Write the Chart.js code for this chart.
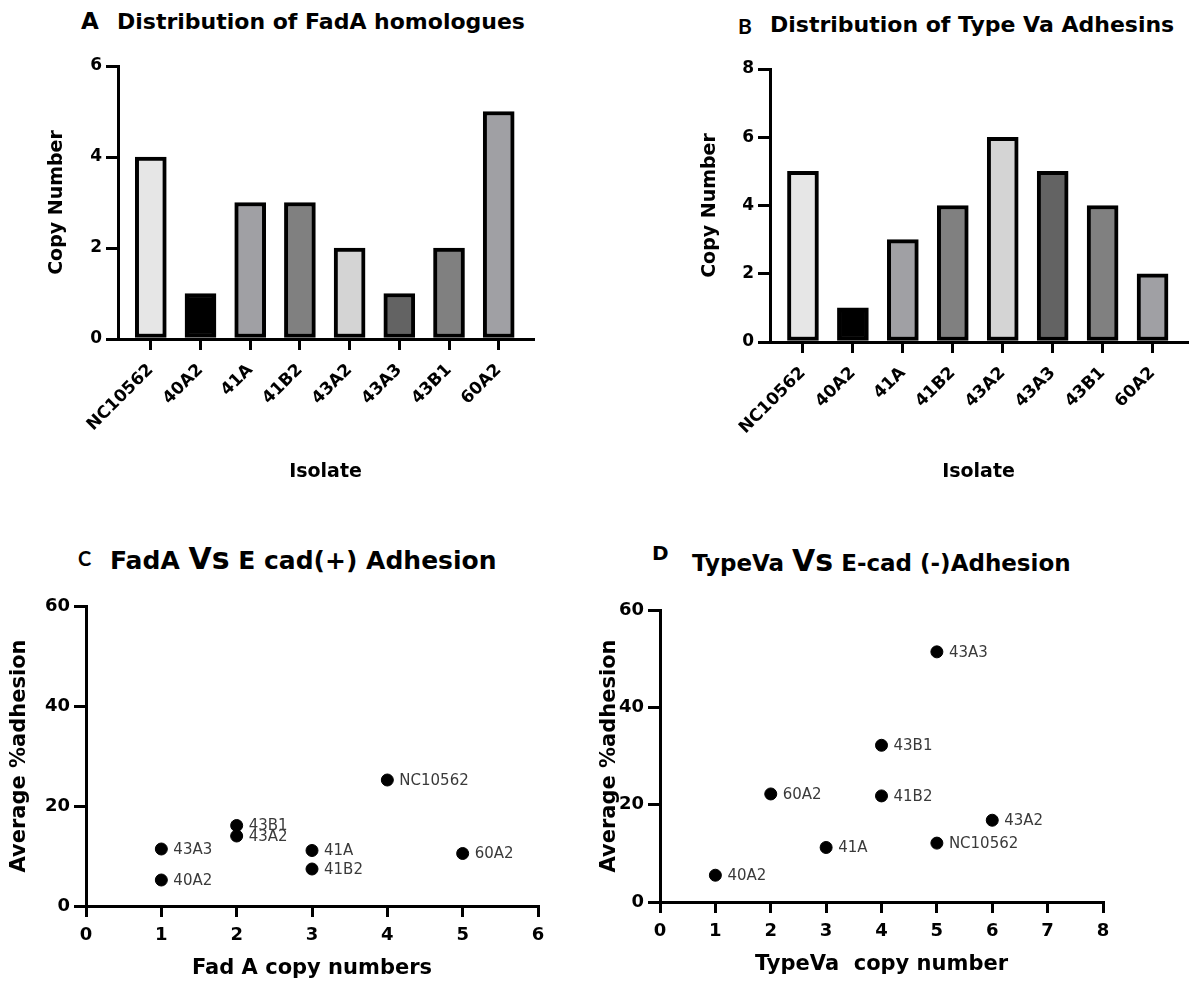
<!DOCTYPE html>
<html><head><meta charset="utf-8">
<script src="https://cdn.jsdelivr.net/npm/chart.js@4.4.1/dist/chart.umd.min.js"></script>
<style>
html,body{margin:0;padding:0;background:#fff;}
body{width:1195px;height:985px;position:relative;overflow:hidden;font-family:"DejaVu Sans",sans-serif;}
canvas{position:absolute;}
.t{position:absolute;white-space:nowrap;font-weight:bold;color:#000;line-height:1;font-family:"DejaVu Sans",sans-serif;}
</style></head><body>
<div class="t" style="left:81px;top:10px;font-size:23px">A</div>
<div class="t" style="left:117px;top:11px;font-size:22px">Distribution of FadA homologues</div>
<div class="t" style="left:738px;top:15px;font-size:21px;font-family:Lato,sans-serif">B</div>
<div class="t" style="left:770px;top:14px;font-size:22px">Distribution of Type Va Adhesins</div>
<div class="t" style="left:78px;top:548px;font-size:20px;font-family:Lato,sans-serif">C</div>
<div class="t" style="left:110px;top:544px;font-size:25px">FadA <span style="font-size:30px">Vs</span> E cad(+) Adhesion</div>
<div class="t" style="left:652px;top:543px;font-size:20px">D</div>
<div class="t" style="left:692px;top:546px;font-size:23px">TypeVa <span style="font-size:30px">Vs</span> E-cad (-)Adhesion</div>

<canvas id="cA" width="590" height="460" style="left:0px;top:40px"></canvas>
<canvas id="cB" width="600" height="460" style="left:595px;top:40px"></canvas>
<canvas id="cC" width="590" height="405" style="left:0px;top:580px"></canvas>
<canvas id="cD" width="600" height="405" style="left:595px;top:580px"></canvas>

<script>
// ---- data ----
const isolates = ['NC10562', '40A2', '41A', '41B2', '43A2', '43A3', '43B1', '60A2'];
const fadaCopies = [4, 1, 3, 3, 2, 1, 2, 5];
const typeVaCopies = [5, 1, 3, 4, 6, 5, 4, 2];
const adhesionEcadPos = [25.2, 5.2, 11.1, 7.4, 14.0, 11.4, 16.1, 10.5];
const adhesionEcadNeg = [12.1, 5.5, 11.2, 21.8, 16.8, 51.4, 32.2, 22.2];
const barColors = ['#e6e6e6', '#000000', '#a0a0a4', '#808080', '#d4d4d4', '#636363', '#808080', '#a0a0a4'];
const fadaYTicks = [0, 2, 4, 6];
const typeVaYTicks = [0, 2, 4, 6, 8];
const adhesionYTicks = [0, 20, 40, 60];
const fadaXTicks = [0, 1, 2, 3, 4, 5, 6];
const typeVaXTicks = [0, 1, 2, 3, 4, 5, 6, 7, 8];

// ---- layout helpers ----
function frame(box, area, yTitleX, xTitleY, lh) {
  const padL = yTitleX - lh / 2 - box.x;
  const padT = area.T - box.y;
  const padR = box.x + box.w - area.R;
  const xBottom = xTitleY + lh / 2 - box.y;
  const padB = box.h - xBottom;
  return {
    padding: {left: padL, top: padT, right: padR, bottom: padB},
    yW: area.L - box.x - padL,
    xH: xBottom - (area.B - box.y)
  };
}
const FONT = 'DejaVu Sans';
const axisLine = {display: true, color: '#000', width: 3};
function tickGrid(len) {
  return {display: true, drawOnChartArea: false, drawTicks: true, tickLength: len, color: '#000', lineWidth: 3, offset: false};
}

const pointNames = {
  id: 'pointNames',
  afterDatasetsDraw(chart) {
    const ctx = chart.ctx;
    const meta = chart.getDatasetMeta(0);
    ctx.save();
    ctx.font = '15px "DejaVu Sans"';
    ctx.fillStyle = '#3a3a3a';
    ctx.textBaseline = 'middle';
    ctx.textAlign = 'left';
    meta.data.forEach((pt, i) => ctx.fillText(isolates[i], pt.x + 12, pt.y + 1));
    ctx.restore();
  }
};

function barChart(id, values, yTicks, fr) {
  return new Chart(document.getElementById(id), {
    type: 'bar',
    data: {datasets: [{
      data: values.map((v, i) => ({x: i, y: v})),
      backgroundColor: barColors, borderColor: '#000', borderWidth: 4,
      borderSkipped: false, barThickness: 31
    }]},
    options: {
      responsive: false, animation: false, events: [],
      layout: {padding: fr.padding},
      plugins: {legend: {display: false}, tooltip: {enabled: false}},
      scales: {
        x: {
          type: 'linear', min: -0.66, max: 7.69, offset: false,
          afterBuildTicks: ax => { ax.ticks = isolates.map((_, i) => ({value: i})); },
          afterFit: ax => { ax.height = fr.xH; },
          grid: tickGrid(11), border: axisLine,
          ticks: {autoSkip: false, minRotation: 45, maxRotation: 45, padding: 10, color: '#000',
                  font: {family: FONT, weight: 'bold', size: 17},
                  callback: v => isolates[v]},
          title: {display: true, text: 'Isolate', color: '#000', padding: 0,
                  font: {family: FONT, weight: 'bold', size: 19}}
        },
        y: {
          min: yTicks[0], max: yTicks[yTicks.length - 1],
          afterBuildTicks: ax => { ax.ticks = yTicks.map(v => ({value: v})); },
          afterFit: ax => { ax.width = fr.yW; },
          grid: tickGrid(12), border: axisLine,
          ticks: {padding: 4, color: '#000', font: {family: FONT, weight: 'bold', size: 17}},
          title: {display: true, text: 'Copy Number', color: '#000', padding: 0,
                  font: {family: FONT, weight: 'bold', size: 19}}
        }
      }
    }
  });
}

function scatterChart(id, xs, ys, xTicks, xTitle, fr) {
  return new Chart(document.getElementById(id), {
    type: 'scatter',
    data: {datasets: [{
      data: xs.map((x, i) => ({x: x, y: ys[i]})),
      backgroundColor: '#000', borderColor: '#000', pointRadius: 6, pointHoverRadius: 6
    }]},
    options: {
      responsive: false, animation: false, events: [],
      layout: {padding: fr.padding},
      plugins: {legend: {display: false}, tooltip: {enabled: false}},
      scales: {
        x: {
          type: 'linear', min: xTicks[0], max: xTicks[xTicks.length - 1],
          afterBuildTicks: ax => { ax.ticks = xTicks.map(v => ({value: v})); },
          afterFit: ax => { ax.height = fr.xH; },
          grid: tickGrid(11), border: axisLine,
          ticks: {padding: 8, color: '#000', font: {family: FONT, weight: 'bold', size: 18}},
          title: {display: true, text: xTitle, color: '#000', padding: 0,
                  font: {family: FONT, weight: 'bold', size: 21}}
        },
        y: {
          min: adhesionYTicks[0], max: adhesionYTicks[adhesionYTicks.length - 1],
          afterBuildTicks: ax => { ax.ticks = adhesionYTicks.map(v => ({value: v})); },
          afterFit: ax => { ax.width = fr.yW; },
          grid: tickGrid(12), border: axisLine,
          ticks: {padding: 4, color: '#000', font: {family: FONT, weight: 'bold', size: 18}},
          title: {display: true, text: 'Average %adhesion', color: '#000', padding: 0,
                  font: {family: FONT, weight: 'bold', size: 21}}
        }
      }
    },
    plugins: [pointNames]
  });
}

barChart('cA', fadaCopies, fadaYTicks,
  frame({x: 0, y: 40, w: 590, h: 460}, {L: 118, T: 66, R: 533, B: 339}, 57, 472, 22.8));
barChart('cB', typeVaCopies, typeVaYTicks,
  frame({x: 595, y: 40, w: 600, h: 460}, {L: 770, T: 69, R: 1187, B: 342}, 710, 472, 22.8));
scatterChart('cC', fadaCopies, adhesionEcadPos, fadaXTicks, 'Fad A copy numbers',
  frame({x: 0, y: 580, w: 590, h: 405}, {L: 86, T: 606, R: 538, B: 906}, 20, 969, 25.2));
scatterChart('cD', typeVaCopies, adhesionEcadNeg, typeVaXTicks, 'TypeVa  copy number',
  frame({x: 595, y: 580, w: 600, h: 405}, {L: 660, T: 610, R: 1103, B: 902}, 610, 965, 25.2));
</script>
</body></html>
